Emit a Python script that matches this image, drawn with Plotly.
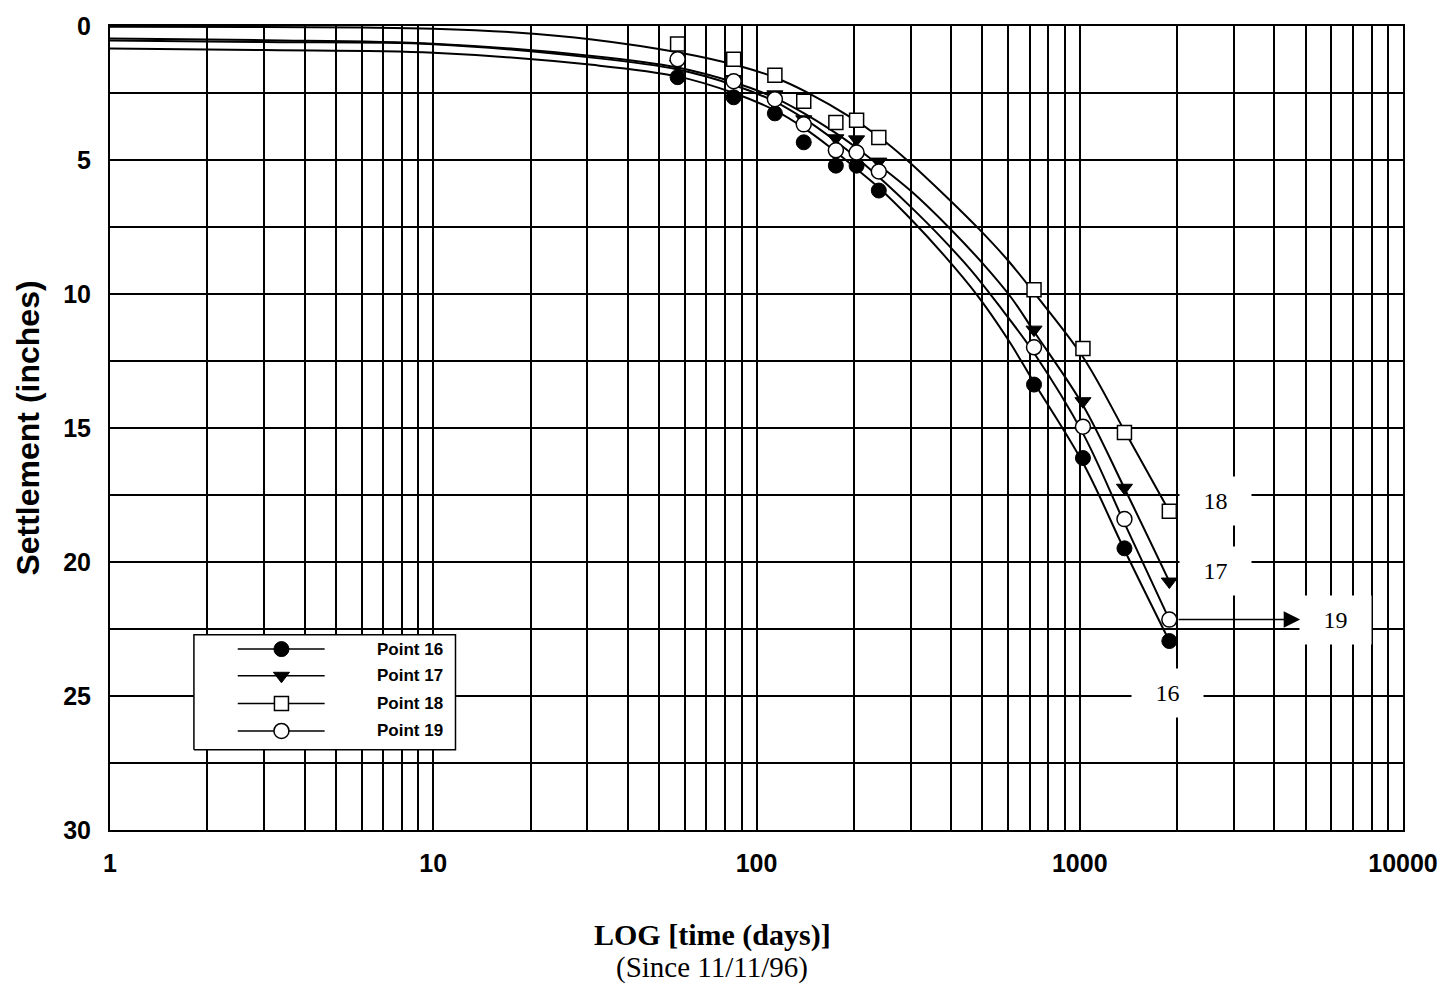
import plotly.graph_objects as go

# Survey dates, days since 11/11/96
days = [57, 85, 114, 140, 176, 204, 239, 722, 1023, 1375, 1893]

# Measured settlement (inches) at each survey date
settle_16 = [1.91, 2.66, 3.26, 4.34, 5.21, 5.21, 6.14, 13.38, 16.12, 19.49, 22.95]
settle_17 = [1.42, 1.98, 2.55, 3.48, 4.19, 4.23, 5.06, 11.33, 14.00, 17.23, 20.73]
settle_18 = [0.67, 1.24, 1.84, 2.81, 3.60, 3.52, 4.16, 9.84, 12.03, 15.17, 18.11]
settle_19 = [1.24, 2.06, 2.73, 3.67, 4.64, 4.72, 5.43, 11.99, 14.95, 18.40, 22.15]

# Fitted trend curves (days, settlement in inches)
trend_days_16 = [1, 3, 10, 31, 57, 85, 114, 140, 170, 200, 240, 300, 380, 482, 600, 722, 1023, 1375, 1893]
trend_16 = [0.84, 0.90, 1.00, 1.45, 1.88, 2.50, 3.15, 3.80, 4.55, 5.25, 6.05, 7.20, 8.55, 10.05, 11.70, 13.30, 16.30, 19.55, 22.95]

trend_days_17 = [1, 3, 10, 31, 57, 85, 114, 140, 176, 204, 234, 300, 400, 500, 615, 722, 1023, 1375, 1893]
trend_17 = [0.47, 0.53, 0.66, 1.12, 1.55, 2.10, 2.68, 3.25, 4.00, 4.55, 5.10, 6.15, 7.60, 8.85, 10.15, 11.40, 14.15, 17.25, 20.73]

trend_days_18 = [1, 3, 6, 10, 18, 31, 57, 89, 114, 142, 198, 240, 289, 385, 490, 600, 722, 1023, 1375, 1893]
trend_18 = [0.03, 0.04, 0.06, 0.10, 0.24, 0.50, 0.98, 1.50, 1.92, 2.45, 3.45, 4.15, 4.95, 6.35, 7.60, 8.75, 9.95, 12.35, 15.10, 18.11]

trend_days_19 = [1, 3, 10, 31, 57, 85, 114, 140, 176, 208, 250, 300, 370, 460, 560, 722, 1023, 1375, 1893]
trend_19 = [0.54, 0.60, 0.68, 1.18, 1.62, 2.20, 2.82, 3.45, 4.30, 5.00, 5.85, 6.75, 7.85, 9.10, 10.40, 12.20, 15.20, 18.55, 22.15]

series_names = ["Point 16", "Point 17", "Point 18", "Point 19"]

# Axis ticks
x_decades = [1, 10, 100, 1000, 10000]
x_decade_labels = ["1", "10", "100", "1000", "10000"]

measured = [settle_16, settle_17, settle_18, settle_19]
trend_x = [trend_days_16, trend_days_17, trend_days_18, trend_days_19]
trend_y = [trend_16, trend_17, trend_18, trend_19]

marker_styles = [
    dict(symbol="circle", size=15, color="black", line=dict(color="black", width=1)),
    dict(symbol="triangle-down", size=14, color="black", line=dict(color="black", width=1)),
    dict(symbol="square", size=14, color="white", line=dict(color="black", width=1.5)),
    dict(symbol="circle", size=15, color="white", line=dict(color="black", width=1.5)),
]

SANS = "Liberation Sans, Arial, Helvetica, sans-serif"
SERIF = "Liberation Serif, Times New Roman, serif"

# full gridline set on the log axis: 1..9 in each decade
x_grid_vals = [m * d for d in x_decades[:-1] for m in range(1, 10)] + [x_decades[-1]]
x_grid_text = [x_decade_labels[x_decades.index(v)] if v in x_decades else "" for v in x_grid_vals]

fig = go.Figure()

for tx, ty in zip(trend_x, trend_y):
    fig.add_trace(go.Scatter(
        x=tx, y=ty, mode="lines",
        line=dict(color="black", width=2, shape="spline", smoothing=1.0),
        showlegend=False, hoverinfo="skip",
    ))

for name, vals, style in zip(series_names, measured, marker_styles):
    fig.add_trace(go.Scatter(
        x=days, y=vals, mode="markers", name=name,
        marker=style, showlegend=False,
    ))

# Legend panel, drawn in an overlay frame spanning the plot area (0..1 each way)
box_x0, box_x1, box_y0, box_y1 = 0.0649, 0.2672, 0.0998, 0.2430
key_x0, key_xm, key_x1 = 0.0988, 0.1326, 0.1660
text_x = 0.2046
row_y = [0.2250, 0.1918, 0.1573, 0.1232]

fig.add_trace(go.Scatter(
    x=[box_x0, box_x1, box_x1, box_x0, box_x0],
    y=[box_y0, box_y0, box_y1, box_y1, box_y0],
    mode="lines", fill="toself", fillcolor="white",
    line=dict(color="black", width=1.5),
    xaxis="x2", yaxis="y2", showlegend=False, hoverinfo="skip",
))

for ry, style in zip(row_y, marker_styles):
    fig.add_trace(go.Scatter(
        x=[key_x0, key_x1], y=[ry, ry], mode="lines",
        line=dict(color="black", width=1.5),
        xaxis="x2", yaxis="y2", showlegend=False, hoverinfo="skip",
    ))
    fig.add_trace(go.Scatter(
        x=[key_xm], y=[ry], mode="markers", marker=style,
        xaxis="x2", yaxis="y2", showlegend=False, hoverinfo="skip",
    ))

annotations = []
for ry, name in zip(row_y, series_names):
    annotations.append(dict(
        x=text_x, y=ry, xref="paper", yref="paper", text=name,
        showarrow=False, xanchor="left", yanchor="middle",
        font=dict(family=SANS, size=17, color="black", weight="bold"),
    ))

# Curve-end labels in white boxes (x positions in log10 units)
end_label_pos = {
    "18": (3.4209, 17.71),
    "17": (3.4209, 20.35),
    "19": (3.7915, settle_19[-1]),
    "16": (3.2726, 24.90),
}
for lab in ["18", "17", "19", "16"]:
    lx, ly = end_label_pos[lab]
    annotations.append(dict(
        x=lx, y=ly, xref="x", yref="y", text=lab, showarrow=False,
        xanchor="center", yanchor="middle",
        width=71, height=48, borderpad=0, bgcolor="white",
        font=dict(family=SERIF, size=24, color="black"),
    ))

# Arrow from the last Point 19 reading to its label
annotations.append(dict(
    x=3.682, y=settle_19[-1], ax=3.301, ay=settle_19[-1],
    xref="x", yref="y", axref="x", ayref="y", text="",
    showarrow=True, arrowhead=2, arrowsize=2.2, arrowwidth=1.5, arrowcolor="black",
))

# Horizontal axis caption
annotations.append(dict(
    x=0.4656, y=-0.1305, xref="paper", yref="paper", text="<b>LOG [time (days)]</b>",
    showarrow=False, xanchor="center", yanchor="middle",
    font=dict(family=SERIF, size=30, color="black"),
))
annotations.append(dict(
    x=0.4656, y=-0.1712, xref="paper", yref="paper", text="(Since 11/11/96)",
    showarrow=False, xanchor="center", yanchor="middle",
    font=dict(family=SERIF, size=29, color="black"),
))

grid_style = dict(showgrid=True, gridcolor="black", gridwidth=1.8,
                  showline=True, linecolor="black", linewidth=2, mirror=True,
                  zeroline=False, ticks="")

fig.update_layout(
    width=1450, height=990,
    margin=dict(l=110, r=45, t=18, b=160),
    paper_bgcolor="white", plot_bgcolor="white",
    showlegend=False,
    xaxis=dict(
        type="log", range=[0, 4],
        tickmode="array", tickvals=x_grid_vals, ticktext=x_grid_text,
        tickfont=dict(family=SANS, size=25, color="black", weight="bold"),
        ticklabelstandoff=10,
        **grid_style,
    ),
    yaxis=dict(
        range=[30, 0], tickmode="linear", tick0=0, dtick=5,
        tickfont=dict(family=SANS, size=25, color="black", weight="bold"),
        ticklabelstandoff=12,
        minor=dict(tick0=0, dtick=2.5, showgrid=True, gridcolor="black", gridwidth=1.8),
        title=dict(text="Settlement (inches)", standoff=14,
                   font=dict(family=SANS, size=32, color="black", weight="bold")),
        **grid_style,
    ),
    xaxis2=dict(overlaying="x", range=[0, 1], visible=False, fixedrange=True),
    yaxis2=dict(overlaying="y", range=[0, 1], visible=False, fixedrange=True),
    annotations=annotations,
)

fig.write_html("out.html")
